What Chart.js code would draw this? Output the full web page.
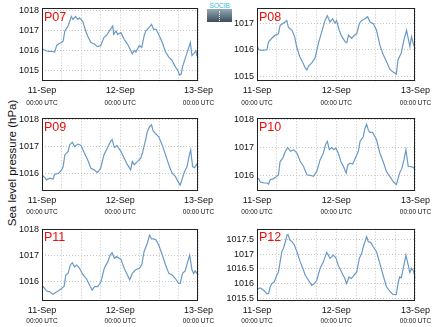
<!DOCTYPE html>
<html>
<head>
<meta charset="utf-8">
<script src="https://cdn.jsdelivr.net/npm/chart.js@4.4.0/dist/chart.umd.min.js"></script>
<style>
body{margin:0;background:#fff;width:434px;height:327px;position:relative;overflow:hidden;font-family:"Liberation Sans",Arial,sans-serif}
.panel{position:absolute;width:217px;height:109px}
#ytitle{position:absolute;left:12px;top:163px;transform:translate(-50%,-50%) rotate(-90deg);white-space:nowrap;font-size:11.5px;color:#111}
#logo{position:absolute;left:207px;top:2px;width:25px;height:20px}
#logo .txt{font-size:7px;line-height:7px;color:#3cc4dc;letter-spacing:-0.3px;text-align:center}
#logo .box{height:13px;background:linear-gradient(#93a9b6,#3d4d59);position:relative}
#logo .box:after{content:'';position:absolute;left:12px;top:2px;height:10px;border-left:1px dotted #fff}
</style>
</head>
<body>
<div id="ytitle">Sea level pressure (hPa)</div>
<div id="logo"><div class="txt">SOCIB</div><div class="box"></div></div>
<div class="panel" style="left:0;top:0"><canvas id="c07"></canvas></div>
<div class="panel" style="left:217px;top:0"><canvas id="c08"></canvas></div>
<div class="panel" style="left:0;top:109px"><canvas id="c09"></canvas></div>
<div class="panel" style="left:217px;top:109px"><canvas id="c10"></canvas></div>
<div class="panel" style="left:0;top:218px"><canvas id="c11"></canvas></div>
<div class="panel" style="left:217px;top:218px"><canvas id="c12"></canvas></div>
<script>
// ===== sea level pressure, 11-13 Sep, hours since 11-Sep 00:00 UTC =====
const DATE_LABELS=['11-Sep','12-Sep','13-Sep'];
const TIME_LABEL='00:00 UTC';
const X_TICKS=[0,6,12,18,24,30,36,42,48];

const HOURS_P07=[0,1,2,3,3.9,4.5,5,6,6.5,7,8,8.5,9,9.5,10.3,11,11.5,12.5,13.4,14,15,16,17,18,19,20,21,21.7,22,22.7,23.2,24.2,25.2,26.2,27,27.7,28.3,28.8,29.8,30.6,31.3,31.8,32.8,33.6,34.3,35,35.8,36.9,37.9,38.9,39.9,40.9,41.6,42.2,42.7,43.1,43.9,44.7,45.5,46,46.5,47.2,47.5,48];
const SLP_P07=[1016.08,1016.0,1015.95,1015.96,1015.92,1016.25,1016.32,1016.4,1016.48,1016.97,1017.22,1017.46,1017.7,1017.55,1017.7,1017.55,1017.63,1017.46,1016.97,1016.72,1016.4,1016.32,1016.19,1016.24,1016.64,1016.8,1017.05,1017.22,1016.8,1016.97,1016.8,1016.89,1016.56,1016.32,1016.08,1015.83,1016.0,1015.92,1016.24,1016.16,1016.72,1016.97,1017.14,1017.3,1017.05,1017.05,1016.8,1016.4,1015.92,1015.67,1015.5,1015.18,1015.02,1014.77,1014.82,1015.18,1015.59,1015.99,1016.4,1015.75,1015.83,1015.99,1015.75,1015.63];

const HOURS_P08=[0,0.5,1.5,3,3.5,4.5,5.5,6.5,7,7.8,8.5,9,9.5,10.6,11.4,12,12.9,13.9,14.6,15.1,15.6,16.6,17.6,18.6,19.6,20.6,21.3,22.1,22.9,23.6,24.1,24.9,25.7,26.7,27.2,27.7,28.7,29.5,30.2,31,31.7,32.7,33.5,34.2,35.2,36.2,37.2,38.2,39.2,40.2,41.2,42.2,42.7,43.7,44.5,45.3,45.8,46.3,46.8,47.3,48];
const SLP_P08=[1016.18,1016.0,1015.98,1016.0,1016.3,1016.43,1016.55,1016.6,1016.91,1016.98,1017.04,1017.1,1016.85,1016.73,1016.49,1016.12,1015.76,1015.51,1015.32,1015.24,1015.39,1015.51,1015.7,1016.24,1016.67,1017.1,1017.28,1017.04,1017.16,1017.0,1017.1,1016.73,1016.49,1016.3,1016.27,1016.55,1016.43,1016.55,1016.6,1016.98,1017.1,1017.16,1017.24,1017.04,1016.98,1016.73,1016.18,1015.82,1015.57,1015.27,1015.17,1015.09,1015.63,1015.88,1016.37,1016.73,1016.43,1016.12,1016.49,1016.24,1016.02];

const HOURS_P09=[0,0.9,1.4,2.4,3.4,3.9,5,6,6.5,7,8,8.5,9.3,10,11,12,13,14,15,16,17,18,19,20,21,21.5,22.2,23,23.5,24.2,25.2,26.2,27.2,27.7,28.3,29.3,30.3,30.8,31.8,32.3,33,33.6,34.1,34.8,35.8,36.9,37.9,38.9,39.9,40.9,41.9,42.4,42.9,43.7,44.5,45.2,45.6,46.2,46.8,47.4,48];
const SLP_P09=[1015.95,1015.85,1015.77,1015.83,1015.8,1015.98,1016.01,1016.13,1016.26,1016.69,1016.82,1017.06,1017.16,1017.0,1017.09,1017.04,1016.76,1016.51,1016.2,1016.14,1016.04,1016.2,1016.69,1016.94,1017.18,1017.26,1016.96,1017.03,1016.94,1016.82,1016.57,1016.33,1016.14,1016.45,1016.33,1016.45,1016.57,1016.76,1017.25,1017.55,1017.73,1017.8,1017.57,1017.48,1017.36,1017.05,1016.69,1016.33,1016.02,1015.9,1015.67,1015.58,1015.77,1016.07,1016.26,1016.69,1016.87,1016.26,1016.22,1016.35,1016.22];

const HOURS_P10=[0,0.5,1,2,3,3.5,4,5,6,6.5,7,7.8,8.6,9.3,10.1,11.1,12.1,13.1,14.1,15.1,16.1,17.1,18.1,19.1,20.1,20.8,21.3,21.9,22.6,23.3,23.9,24.6,25.4,26.2,27,27.5,28.2,29,30,30.7,31.2,32.2,32.7,33.2,33.7,34.2,35,35.7,36.2,37.2,38.2,39.2,40.2,41.2,42.2,43.2,43.9,44.5,45.1,45.8,46.5,47.3,48];
const SLP_P10=[1015.83,1015.87,1015.75,1015.71,1015.71,1015.67,1015.83,1015.87,1015.95,1016.01,1016.49,1016.61,1016.86,1017.0,1016.86,1016.92,1016.8,1016.49,1016.31,1016.01,1015.99,1015.95,1016.13,1016.55,1016.8,1017.12,1017.22,1016.92,1017.0,1016.92,1016.98,1016.8,1016.49,1016.31,1016.07,1016.37,1016.43,1016.4,1016.67,1016.86,1017.22,1017.4,1017.7,1017.84,1017.64,1017.55,1017.55,1017.4,1017.28,1016.8,1016.49,1016.13,1015.95,1015.77,1015.65,1016.07,1016.25,1016.55,1016.92,1016.31,1016.31,1016.28,1016.19];

const HOURS_P11=[0,0.4,1.4,2.4,3.4,4.3,5,6,6.8,7.3,8,8.7,9.3,10,10.7,11.5,12.6,13.6,14.6,15.4,16.1,17.1,18.1,19.1,20.2,20.9,21.5,22.2,22.9,23.7,24.2,25.2,26.2,26.9,27.7,28.8,29.8,30.6,31.3,32.3,33,33.6,34.3,35,35.8,36.9,37.9,38.9,39.9,40.9,41.9,42.4,43.1,43.9,44.7,45.3,46,46.5,47,47.5,48];
const SLP_P11=[1015.74,1015.78,1015.61,1015.58,1015.48,1015.56,1015.61,1015.71,1015.8,1016.24,1016.3,1016.63,1016.72,1016.56,1016.63,1016.5,1016.24,1016.1,1015.84,1015.65,1015.78,1015.78,1015.97,1016.5,1016.76,1017.02,1017.11,1016.89,1016.96,1016.89,1016.86,1016.5,1016.24,1016.05,1016.3,1016.44,1016.5,1016.63,1017.15,1017.48,1017.8,1017.65,1017.65,1017.61,1017.41,1017.02,1016.63,1016.3,1016.24,1016.1,1015.91,1015.91,1016.3,1016.4,1016.76,1017.02,1016.44,1016.3,1016.4,1016.3,1016.24];

const HOURS_P12=[0,1,2,3,3.5,4,4.5,5.2,6,6.5,7,7.5,8,8.6,9.1,9.4,9.9,10.6,11.3,12.1,13.1,13.9,14.6,15.6,16.6,17.4,18.1,19.1,20.1,21.1,21.6,22.1,22.6,23.1,23.9,24.6,25.6,26.6,27.1,27.9,28.6,29.4,30.2,31,31.7,32.2,32.7,33.2,33.7,34.4,35.2,36.2,37.2,38.2,39.2,40.2,41.2,42.2,42.7,43.2,43.7,44.3,45.1,45.8,46.3,46.8,47.3,48];
const SLP_P12=[1015.82,1015.86,1015.78,1015.67,1015.67,1015.9,1016.01,1016.06,1016.29,1016.4,1016.74,1017.08,1017.2,1017.42,1017.65,1017.67,1017.48,1017.42,1017.31,1017.08,1016.74,1016.52,1016.29,1016.12,1015.95,1016.01,1016.12,1016.52,1016.74,1017.06,1016.97,1016.86,1016.91,1016.97,1016.88,1016.63,1016.4,1016.18,1016.01,1016.23,1016.18,1016.29,1016.4,1016.86,1017.03,1017.25,1017.42,1017.59,1017.42,1017.4,1017.25,1017.08,1016.69,1016.29,1015.9,1015.75,1015.64,1015.64,1016.01,1016.23,1016.2,1016.52,1016.97,1016.63,1016.38,1016.52,1016.46,1016.18];

const Y_TICKS_P07=[1015,1016,1017,1018];
const Y_TICKS_P08=[1015,1016,1017];
const Y_TICKS_P09=[1016,1017,1018];
const Y_TICKS_P10=[1016,1017,1018];
const Y_TICKS_P11=[1016,1017,1018];
const Y_TICKS_P12=[1015.5,1016,1016.5,1017,1017.5];

// panel id, data, y range, and where the plot box sits inside its 217x109 canvas
const PANELS=[
  {id:'c07',name:'P07',hours:HOURS_P07,slp:SLP_P07,yTicks:Y_TICKS_P07,yMin:1014.45,yMax:1018.1,left:42,right:17,top:7,bottom:27.5},
  {id:'c08',name:'P08',hours:HOURS_P08,slp:SLP_P08,yTicks:Y_TICKS_P08,yMin:1014.81,yMax:1017.55,left:40,right:18,top:7.5,bottom:27.5},
  {id:'c09',name:'P09',hours:HOURS_P09,slp:SLP_P09,yTicks:Y_TICKS_P09,yMin:1015.36,yMax:1018.04,left:42,right:17,top:9.3,bottom:27},
  {id:'c10',name:'P10',hours:HOURS_P10,slp:SLP_P10,yTicks:Y_TICKS_P10,yMin:1015.42,yMax:1018.06,left:40,right:18,top:9.3,bottom:27},
  {id:'c11',name:'P11',hours:HOURS_P11,slp:SLP_P11,yTicks:Y_TICKS_P11,yMin:1015.22,yMax:1018.05,left:42,right:17,top:10.7,bottom:26},
  {id:'c12',name:'P12',hours:HOURS_P12,slp:SLP_P12,yTicks:Y_TICKS_P12,yMin:1015.42,yMax:1017.86,left:40,right:18,top:10.7,bottom:26},
];

const LINE_COLOR='#6b9ac6';
const GRID_COLOR='#c4c4c4';
const FONT='"Liberation Sans",Arial,sans-serif';

const framePlugin={
  id:'frame',
  afterDatasetsDraw(chart,args,opts){
    const {ctx,chartArea:a}=chart;
    ctx.save();
    ctx.strokeStyle='#222';ctx.lineWidth=1;
    ctx.strokeRect(Math.round(a.left)+0.5,Math.round(a.top)+0.5,Math.round(a.right-a.left)-1,Math.round(a.bottom-a.top)-1);
    ctx.fillStyle='#e8100c';ctx.font='12.5px '+FONT;ctx.textBaseline='top';
    ctx.fillText(opts.name,a.left+2,a.top+3);
    ctx.restore();
  }
};

function makePanel(p){
  const ctx=document.getElementById(p.id).getContext('2d');
  const xTicks=s=>{s.ticks=X_TICKS.map(v=>({value:v}))};
  return new Chart(ctx,{
    type:'line',
    data:{datasets:[{data:p.hours.map((h,i)=>({x:h,y:p.slp[i]})),borderColor:LINE_COLOR,borderWidth:1.2,pointRadius:0,tension:0,fill:false}]},
    options:{
      responsive:true,maintainAspectRatio:false,animation:false,
      layout:{padding:{top:p.top,right:p.right,left:0,bottom:0}},
      plugins:{legend:{display:false},tooltip:{enabled:false},frame:{name:p.name}},
      scales:{
        x:{type:'linear',min:0,max:48,afterBuildTicks:xTicks,afterFit:s=>{s.height=p.bottom-10},
          grid:{color:GRID_COLOR,lineWidth:1,drawTicks:false},border:{display:false,dash:[1,2]},
          ticks:{autoSkip:false,maxRotation:0,padding:4,color:'#111',font:{family:FONT,size:9},callback:v=>v%24===0?DATE_LABELS[v/24]:''}},
        x2:{type:'linear',position:'bottom',min:0,max:48,afterBuildTicks:xTicks,afterFit:s=>{s.height=10},
          grid:{display:false,drawTicks:false},border:{display:false},
          ticks:{autoSkip:false,maxRotation:0,padding:0,color:'#111',font:{family:FONT,size:6.5},callback:v=>v%24===0?TIME_LABEL:''}},
        y:{min:p.yMin,max:p.yMax,afterBuildTicks:s=>{s.ticks=p.yTicks.map(v=>({value:v}))},afterFit:s=>{s.width=p.left},
          grid:{color:GRID_COLOR,lineWidth:1,drawTicks:false},border:{display:false,dash:[1,2]},
          ticks:{padding:3,color:'#111',font:{family:FONT,size:9},callback:v=>String(v)}}
      }
    },
    plugins:[framePlugin]
  });
}

PANELS.forEach(makePanel);
</script>
</body>
</html>
